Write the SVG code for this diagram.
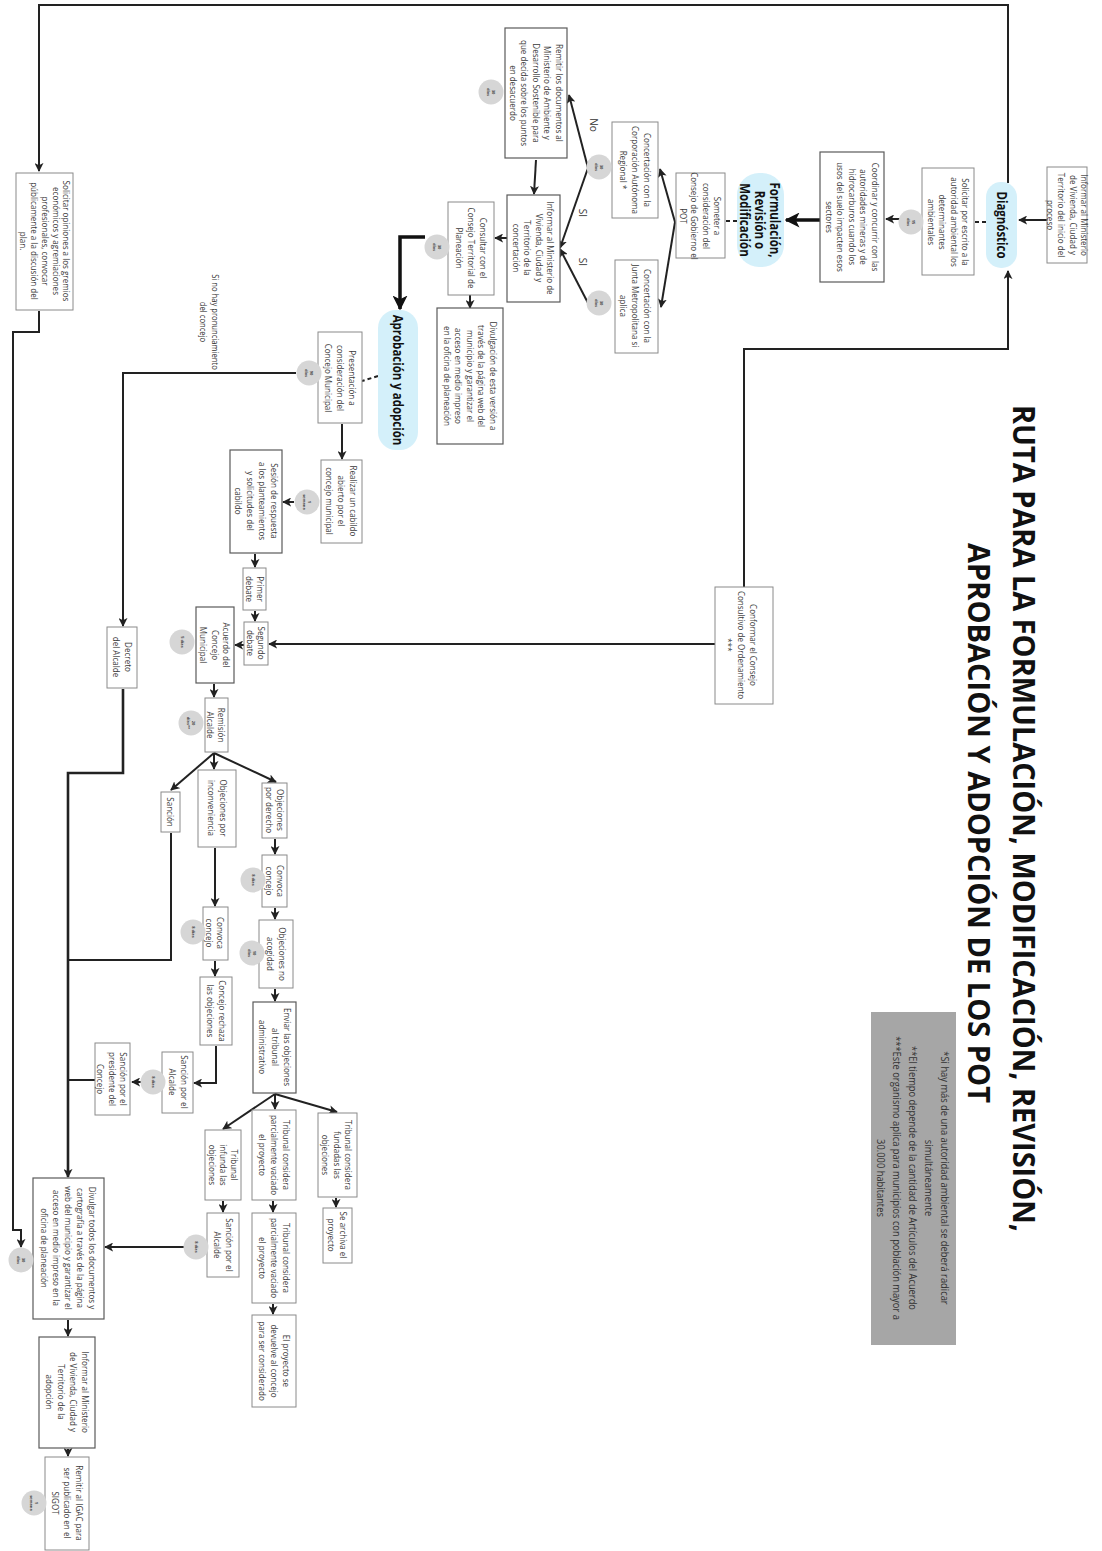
<svg xmlns="http://www.w3.org/2000/svg" width="1102" height="1551" viewBox="0 0 1102 1551">
<style>
.bg{fill:#ffffff}
.box{fill:#ffffff;stroke:#8a8a8a;stroke-width:1}
.box2{fill:#ffffff;stroke:#5a5a5a;stroke-width:1.2}
.pill{fill:#d4f0fa;stroke:none}
.circ{fill:#d6d6d6;stroke:none}
.t{font-family:"Open Sans","Liberation Sans",sans-serif;font-size:9.5px;fill:#3a3a3a;text-anchor:middle;dominant-baseline:central}
.tb{font-family:"Open Sans","Liberation Sans",sans-serif;font-size:13.5px;font-weight:bold;fill:#111;text-anchor:middle;dominant-baseline:central}
.tc{font-family:"Open Sans","Liberation Sans",sans-serif;font-size:4px;font-weight:bold;fill:#444;text-anchor:middle;dominant-baseline:central}
.tl{font-family:"Open Sans","Liberation Sans",sans-serif;font-size:10px;fill:#333;text-anchor:middle;dominant-baseline:central}
.title{font-family:"Open Sans","Liberation Sans",sans-serif;font-size:31px;font-weight:bold;fill:#111}
.note{font-family:"Open Sans","Liberation Sans",sans-serif;font-size:11px;fill:#333;text-anchor:middle;dominant-baseline:central}
.c{fill:none;stroke:#222;stroke-width:2}
.ck{fill:none;stroke:#111;stroke-width:3.5}
.d{fill:none;stroke:#222;stroke-width:2;stroke-dasharray:4 3}
</style>
<defs>
<marker id="a" viewBox="0 0 10 10" refX="9" refY="5" markerWidth="9" markerHeight="9" markerUnits="userSpaceOnUse" orient="auto"><path d="M0,0 L10,5 L0,10 L2.5,5 z" fill="#222"/></marker>
<marker id="ak" viewBox="0 0 10 10" refX="9" refY="5" markerWidth="15" markerHeight="15" markerUnits="userSpaceOnUse" orient="auto"><path d="M0,0 L10,5 L0,10 L2.5,5 z" fill="#111"/></marker>
</defs>
<rect class="bg" x="0" y="0" width="1102" height="1551"/>

<g id="connectors">
<path class="c" d="M1008,183 V5 H39 V171" marker-end="url(#a)"/>
<path class="c" d="M744,587 V349 H1008 V271" marker-end="url(#a)"/>
<path class="c" d="M715,644 H269" marker-end="url(#a)"/>
<path class="c" d="M1047,220 H1019" marker-end="url(#a)"/>
<path class="d" d="M986,222 H974"/>
<path class="c" d="M900,219 H886" marker-end="url(#a)"/>
<path class="ck" d="M820,220 H786" marker-end="url(#ak)"/>
<path class="d" d="M737,221 H725"/>
<path class="c" d="M675,222 L660,169" marker-end="url(#a)"/>
<path class="c" d="M675,222 L661,307" marker-end="url(#a)"/>
<path class="c" d="M588,168 L569,95" marker-end="url(#a)"/>
<path class="c" d="M588,168 L560,248" marker-end="url(#a)"/>
<path class="c" d="M588,303 L560,249" marker-end="url(#a)"/>
<path class="c" d="M536,160 L534,194" marker-end="url(#a)"/>
<path class="c" d="M507,238 H495" marker-end="url(#a)"/>
<path class="ck" d="M425,237 H400 V309" marker-end="url(#ak)"/>
<path class="c" d="M470,295 V308" marker-end="url(#a)"/>
<path class="d" d="M378,376 L362,381"/>
<path class="c" d="M296,373 H123 V626" marker-end="url(#a)"/>
<path class="c" d="M342,424 V459" marker-end="url(#a)"/>
<path class="c" d="M294,502 H283" marker-end="url(#a)"/>
<path class="c" d="M255,554 V567" marker-end="url(#a)"/>
<path class="c" d="M255,611 V621" marker-end="url(#a)"/>
<path class="c" d="M244,645 H235" marker-end="url(#a)"/>
<path class="c" d="M214,684 V697" marker-end="url(#a)"/>
<path class="c" d="M214,753 L171,790" marker-end="url(#a)"/>
<path class="c" d="M214,753 V769" marker-end="url(#a)"/>
<path class="c" d="M214,753 L276,782" marker-end="url(#a)"/>
<path class="c" d="M275,839 V854" marker-end="url(#a)"/>
<path class="c" d="M275,908 V919" marker-end="url(#a)"/>
<path class="c" d="M275,989 V1001" marker-end="url(#a)"/>
<path class="c" d="M275,1094 L337,1112" marker-end="url(#a)"/>
<path class="c" d="M275,1094 V1109" marker-end="url(#a)"/>
<path class="c" d="M275,1094 L223,1129" marker-end="url(#a)"/>
<path class="c" d="M215,848 V906" marker-end="url(#a)"/>
<path class="c" d="M215,961 V976" marker-end="url(#a)"/>
<path class="c" d="M216,1046 V1083 H194" marker-end="url(#a)"/>
<path class="c" d="M143,1082 H132" marker-end="url(#a)"/>
<path class="c" d="M336,1198 V1207" marker-end="url(#a)"/>
<path class="c" d="M273,1201 V1212" marker-end="url(#a)"/>
<path class="c" d="M273,1304 V1314" marker-end="url(#a)"/>
<path class="c" d="M223,1201 V1212" marker-end="url(#a)"/>
<path class="c" d="M186,1247 H105" marker-end="url(#a)"/>
<path class="c" style="stroke-width:2.6" d="M123,689 V773 H68 V1177" marker-end="url(#a)"/>
<path class="c" d="M171,833 V960 H68"/>
<path class="c" d="M95,1080 H68"/>
<path class="c" d="M39,311 V332 H13 V1230 H21 V1247" marker-end="url(#a)"/>
<path class="c" d="M68,1320 V1336" marker-end="url(#a)"/>
<path class="c" d="M68,1449 V1456" marker-end="url(#a)"/>
<text class="tl" transform="translate(594 125) rotate(90)">No</text>
<text class="tl" transform="translate(583 213) rotate(90)">SI</text>
<text class="tl" transform="translate(583 262) rotate(90)">SI</text>
<text class="tl" style="font-size:9px" transform="translate(210 322) rotate(90) scale(.85 1)"><tspan x="0" y="-6">Si no hay pronunciamiento</tspan><tspan x="0" dy="12">del concejo</tspan></text>
</g>

<g id="n-informar-inicio"><rect class="box" x="1047" y="167" width="40" height="96"/>
<text class="t" transform="translate(1067 215) rotate(90) scale(.85 1)"><tspan x="0" y="-17.25">Informar al Ministerio</tspan><tspan x="0" dy="11.5">de Vivienda, Ciudad y</tspan><tspan x="0" dy="11.5">Territorio del inicio del</tspan><tspan x="0" dy="11.5">proceso</tspan></text></g>

<g id="n-diagnostico"><rect class="pill" x="986" y="182" width="31" height="86" rx="15"/>
<text class="tb" transform="translate(1002 225) rotate(90) scale(.85 1)">Diagnóstico</text></g>

<g id="n-solicitar-autoridad"><rect class="box" x="922" y="168" width="52" height="107"/>
<text class="t" transform="translate(948 222) rotate(90) scale(.85 1)"><tspan x="0" y="-17.25">Solicitar por escrito a la</tspan><tspan x="0" dy="11.5">autoridad ambiental los</tspan><tspan x="0" dy="11.5">determinantes</tspan><tspan x="0" dy="11.5">ambientales</tspan></text></g>

<g id="n-coordinar"><rect class="box2" x="820" y="152" width="64" height="130"/>
<text class="t" transform="translate(852 217) rotate(90) scale(.85 1)"><tspan x="0" y="-23">Coordinar y concurrir con las</tspan><tspan x="0" dy="11.5">autoridades mineras y de</tspan><tspan x="0" dy="11.5">hidrocarburos cuando los</tspan><tspan x="0" dy="11.5">usos del suelo impacten esos</tspan><tspan x="0" dy="11.5">sectores</tspan></text></g>

<g id="n-formulacion"><rect class="pill" x="737" y="173" width="47" height="94" rx="22"/>
<text class="tb" transform="translate(760 220) rotate(90) scale(.85 1)"><tspan x="0" y="-15">Formulación,</tspan><tspan x="0" dy="15">Revisión o</tspan><tspan x="0" dy="15">Modificación</tspan></text></g>

<g id="n-someter"><rect class="box" x="676" y="173" width="49" height="85"/>
<text class="t" transform="translate(700 216) rotate(90) scale(.85 1)"><tspan x="0" y="-17.25">Someter a</tspan><tspan x="0" dy="11.5">consideración del</tspan><tspan x="0" dy="11.5">Consejo de Gobierno el</tspan><tspan x="0" dy="11.5">POT</tspan></text></g>

<g id="n-car"><rect class="box" x="612" y="122" width="46" height="96"/>
<text class="t" transform="translate(635 170) rotate(90) scale(.85 1)"><tspan x="0" y="-12">Concertación con la</tspan><tspan x="0" dy="12">Corporación Autónoma</tspan><tspan x="0" dy="12">Regional *</tspan></text></g>

<g id="n-junta"><rect class="box" x="615" y="260" width="43" height="93"/>
<text class="t" transform="translate(635 306) rotate(90) scale(.85 1)"><tspan x="0" y="-12">Concertación con la</tspan><tspan x="0" dy="12">Junta Metropolitana si</tspan><tspan x="0" dy="12">aplica</tspan></text></g>

<g id="n-remitir"><rect class="box2" x="505" y="28" width="62" height="130"/>
<text class="t" transform="translate(536 93) rotate(90) scale(.85 1)"><tspan x="0" y="-23">Remitir los documentos al</tspan><tspan x="0" dy="11.5">Ministerio de Ambiente y</tspan><tspan x="0" dy="11.5">Desarrollo Sostenible para</tspan><tspan x="0" dy="11.5">que decida sobre los puntos</tspan><tspan x="0" dy="11.5">en desacuerdo</tspan></text></g>

<g id="n-informar-concertacion"><rect class="box2" x="507" y="195" width="53" height="107"/>
<text class="t" transform="translate(533 248) rotate(90) scale(.85 1)"><tspan x="0" y="-17.25">Informar al Ministerio de</tspan><tspan x="0" dy="11.5">Vivienda, Ciudad y</tspan><tspan x="0" dy="11.5">Territorio de la</tspan><tspan x="0" dy="11.5">concertación</tspan></text></g>

<g id="n-consultar"><rect class="box" x="448" y="202" width="46" height="93"/>
<text class="t" transform="translate(471 248) rotate(90) scale(.85 1)"><tspan x="0" y="-12">Consultar con el</tspan><tspan x="0" dy="12">Consejo Territorial de</tspan><tspan x="0" dy="12">Planeación</tspan></text></g>

<g id="n-divulgacion"><rect class="box2" x="437" y="308" width="66" height="136"/>
<text class="t" transform="translate(470 376) rotate(90) scale(.85 1)"><tspan x="0" y="-23">Divulgación de esta versión a</tspan><tspan x="0" dy="11.5">través de la página web del</tspan><tspan x="0" dy="11.5">municipio  y garantizar  el</tspan><tspan x="0" dy="11.5">acceso en medio impreso</tspan><tspan x="0" dy="11.5">en la oficina de planeación</tspan></text></g>

<g id="n-aprobacion"><rect class="pill" x="378" y="310" width="40" height="140" rx="18"/>
<text class="tb" transform="translate(398 380) rotate(90) scale(.85 1)">Aprobación y adopción</text></g>

<g id="n-presentacion"><rect class="box" x="318" y="332" width="44" height="91"/>
<text class="t" transform="translate(340 378) rotate(90) scale(.85 1)"><tspan x="0" y="-12">Presentación a</tspan><tspan x="0" dy="12">consideración del</tspan><tspan x="0" dy="12">Concejo Municipal</tspan></text></g>

<g id="n-realizar"><rect class="box" x="321" y="460" width="41" height="83"/>
<text class="t" transform="translate(341 501) rotate(90) scale(.85 1)"><tspan x="0" y="-12">Realizar  un cabildo</tspan><tspan x="0" dy="12">abierto por el</tspan><tspan x="0" dy="12">concejo municipal</tspan></text></g>

<g id="n-sesion"><rect class="box2" x="230" y="450" width="52" height="103"/>
<text class="t" transform="translate(256 501) rotate(90) scale(.85 1)"><tspan x="0" y="-18">Sesión de respuesta</tspan><tspan x="0" dy="12">a los planteamientos</tspan><tspan x="0" dy="12">y solicitudes del</tspan><tspan x="0" dy="12">cabildo</tspan></text></g>

<g id="n-primer"><rect class="box" x="243" y="568" width="23" height="42"/>
<text class="t" transform="translate(255 589) rotate(90) scale(.85 1)"><tspan x="0" y="-5.5">Primer</tspan><tspan x="0" dy="11">debate</tspan></text></g>

<g id="n-segundo"><rect class="box" x="244" y="622" width="24" height="43"/>
<text class="t" transform="translate(256 643) rotate(90) scale(.85 1)"><tspan x="0" y="-5.5">Segundo</tspan><tspan x="0" dy="11">debate</tspan></text></g>

<g id="n-acuerdo"><rect class="box2" x="196" y="607" width="38" height="76"/>
<text class="t" transform="translate(215 645) rotate(90) scale(.85 1)"><tspan x="0" y="-11.5">Acuerdo del</tspan><tspan x="0" dy="11.5">Concejo</tspan><tspan x="0" dy="11.5">Municipal</tspan></text></g>

<g id="n-remision"><rect class="box" x="205" y="698" width="23" height="54"/>
<text class="t" transform="translate(216 725) rotate(90) scale(.85 1)"><tspan x="0" y="-5.5">Remisión</tspan><tspan x="0" dy="11">Alcalde</tspan></text></g>

<g id="n-decreto"><rect class="box" x="107" y="627" width="30" height="61"/>
<text class="t" transform="translate(122 657) rotate(90) scale(.85 1)"><tspan x="0" y="-6">Decreto</tspan><tspan x="0" dy="12">del Alcalde</tspan></text></g>

<g id="n-sancion"><rect class="box" x="161" y="792" width="19" height="40"/>
<text class="t" transform="translate(170 812) rotate(90) scale(.85 1)">Sanción</text></g>

<g id="n-obj-inconveniencia"><rect class="box" x="198" y="770" width="38" height="77"/>
<text class="t" transform="translate(217 808) rotate(90) scale(.85 1)"><tspan x="0" y="-6">Objeciones por</tspan><tspan x="0" dy="12">inconveniencia</tspan></text></g>

<g id="n-obj-derecho"><rect class="box" x="262" y="783" width="25" height="55"/>
<text class="t" transform="translate(275 810) rotate(90) scale(.85 1)"><tspan x="0" y="-5.5">Objeciones</tspan><tspan x="0" dy="11">por derecho</tspan></text></g>

<g id="n-convoca1"><rect class="box" x="262" y="855" width="25" height="52"/>
<text class="t" transform="translate(275 881) rotate(90) scale(.85 1)"><tspan x="0" y="-5.5">Convoca</tspan><tspan x="0" dy="11">concejo</tspan></text></g>

<g id="n-obj-no"><rect class="box" x="259" y="920" width="34" height="68"/>
<text class="t" transform="translate(276 954) rotate(90) scale(.85 1)"><tspan x="0" y="-6">Objeciones no</tspan><tspan x="0" dy="12">acogidad</tspan></text></g>

<g id="n-enviar"><rect class="box2" x="253" y="1002" width="43" height="91"/>
<text class="t" transform="translate(275 1047) rotate(90) scale(.85 1)"><tspan x="0" y="-12.5">Enviar las objeciones</tspan><tspan x="0" dy="12.5">al tribunal</tspan><tspan x="0" dy="12.5">administrativo</tspan></text></g>

<g id="n-convoca2"><rect class="box" x="203" y="907" width="25" height="53"/>
<text class="t" transform="translate(215 933) rotate(90) scale(.85 1)"><tspan x="0" y="-5.5">Convoca</tspan><tspan x="0" dy="11">concejo</tspan></text></g>

<g id="n-rechaza"><rect class="box" x="200" y="977" width="32" height="68"/>
<text class="t" transform="translate(216 1011) rotate(90) scale(.85 1)"><tspan x="0" y="-6">Concejo rechaza</tspan><tspan x="0" dy="12">las objeciones</tspan></text></g>

<g id="n-sancion-alcalde1"><rect class="box" x="162" y="1052" width="31" height="61"/>
<text class="t" transform="translate(178 1082) rotate(90) scale(.85 1)"><tspan x="0" y="-6">Sanción por el</tspan><tspan x="0" dy="12">Alcalde</tspan></text></g>

<g id="n-sancion-presidente"><rect class="box" x="95" y="1043" width="35" height="72"/>
<text class="t" transform="translate(112 1079) rotate(90) scale(.85 1)"><tspan x="0" y="-11.5">Sanción por el</tspan><tspan x="0" dy="11.5">presidente del</tspan><tspan x="0" dy="11.5">Concejo</tspan></text></g>

<g id="n-trib-fundadas"><rect class="box" x="318" y="1113" width="39" height="84"/>
<text class="t" transform="translate(337 1155) rotate(90) scale(.85 1)"><tspan x="0" y="-11.5">Tribunal considera</tspan><tspan x="0" dy="11.5">fundadas las</tspan><tspan x="0" dy="11.5">objeciones</tspan></text></g>

<g id="n-trib-parcial1"><rect class="box" x="252" y="1110" width="44" height="90"/>
<text class="t" transform="translate(274 1155) rotate(90) scale(.85 1)"><tspan x="0" y="-12">Tribunal considera</tspan><tspan x="0" dy="12">parcialmente vaciado</tspan><tspan x="0" dy="12">el proyecto</tspan></text></g>

<g id="n-trib-infunda"><rect class="box" x="205" y="1130" width="36" height="70"/>
<text class="t" transform="translate(223 1165) rotate(90) scale(.85 1)"><tspan x="0" y="-11">Tribunal</tspan><tspan x="0" dy="11">infunda las</tspan><tspan x="0" dy="11">objeciones</tspan></text></g>

<g id="n-archiva"><rect class="box" x="323" y="1208" width="29" height="55"/>
<text class="t" transform="translate(337 1235) rotate(90) scale(.85 1)"><tspan x="0" y="-6">Se archiva el</tspan><tspan x="0" dy="12">proyecto</tspan></text></g>

<g id="n-trib-parcial2"><rect class="box" x="252" y="1213" width="44" height="90"/>
<text class="t" transform="translate(274 1258) rotate(90) scale(.85 1)"><tspan x="0" y="-12">Tribunal considera</tspan><tspan x="0" dy="12">parcialmente vaciado</tspan><tspan x="0" dy="12">el proyecto</tspan></text></g>

<g id="n-devuelve"><rect class="box" x="252" y="1315" width="44" height="92"/>
<text class="t" transform="translate(274 1361) rotate(90) scale(.85 1)"><tspan x="0" y="-12">El proyecto se</tspan><tspan x="0" dy="12">devuelve al concejo</tspan><tspan x="0" dy="12">para ser considerado</tspan></text></g>

<g id="n-sancion-alcalde2"><rect class="box" x="207" y="1213" width="32" height="64"/>
<text class="t" transform="translate(223 1245) rotate(90) scale(.85 1)"><tspan x="0" y="-6">Sanción por el</tspan><tspan x="0" dy="12">Alcalde</tspan></text></g>

<g id="n-divulgar"><rect class="box2" x="33" y="1178" width="71" height="141"/>
<text class="t" transform="translate(68 1248) rotate(90) scale(.85 1)"><tspan x="0" y="-24">Divulgar todos los documentos y</tspan><tspan x="0" dy="12">cartografía  a  través de la página</tspan><tspan x="0" dy="12">web del municipio  y garantizar  el</tspan><tspan x="0" dy="12">acceso en medio impreso en la</tspan><tspan x="0" dy="12">oficina de planeación</tspan></text></g>

<g id="n-informar-adopcion"><rect class="box2" x="39" y="1337" width="56" height="111"/>
<text class="t" transform="translate(67 1392) rotate(90) scale(.85 1)"><tspan x="0" y="-18">Informar al Ministerio</tspan><tspan x="0" dy="12">de Vivienda, Ciudad y</tspan><tspan x="0" dy="12">Territorio de la</tspan><tspan x="0" dy="12">adopción</tspan></text></g>

<g id="n-igac"><rect class="box" x="45" y="1457" width="44" height="93"/>
<text class="t" transform="translate(67 1503) rotate(90) scale(.85 1)"><tspan x="0" y="-12">Remitir al IGAC para</tspan><tspan x="0" dy="12">ser publicado en el</tspan><tspan x="0" dy="12">SIGOT</tspan></text></g>

<g id="n-conformar"><rect class="box" x="715" y="587" width="58" height="117"/>
<text class="t" transform="translate(741 645) rotate(90) scale(.85 1)"><tspan x="0" y="-12.5">Conformar el Consejo</tspan><tspan x="0" dy="12.5">Consultivo de Ordenamiento</tspan><tspan x="0" dy="12.5">***</tspan></text></g>

<g id="n-solicitar-opiniones"><rect class="box" x="16" y="173" width="57" height="137"/>
<text class="t" transform="translate(45 241) rotate(90) scale(.85 1)"><tspan x="0" y="-21.5">Solicitar opiniones a los gremios</tspan><tspan x="0" dy="10.75">económicos y agremiaciones</tspan><tspan x="0" dy="10.75">profesionales, convocar</tspan><tspan x="0" dy="10.75">públicamente a la  discusión del</tspan><tspan x="0" dy="10.75">plan.</tspan></text></g>

<g id="timers">
<g id="t-solicitar"><circle class="circ" cx="911" cy="222" r="12.5"/><text class="tc" transform="translate(911 222) rotate(90)"><tspan x="0" y="-2.5">15</tspan><tspan x="0" dy="5">días</tspan></text></g>
<g id="t-car"><circle class="circ" cx="599" cy="167" r="12.5"/><text class="tc" transform="translate(599 167) rotate(90)"><tspan x="0" y="-2.5">30</tspan><tspan x="0" dy="5">días</tspan></text></g>
<g id="t-junta"><circle class="circ" cx="599" cy="303" r="12.5"/><text class="tc" transform="translate(599 303) rotate(90)"><tspan x="0" y="-2.5">30</tspan><tspan x="0" dy="5">días</tspan></text></g>
<g id="t-remitir"><circle class="circ" cx="491" cy="92" r="12.5"/><text class="tc" transform="translate(491 92) rotate(90)"><tspan x="0" y="-2.5">30</tspan><tspan x="0" dy="5">días</tspan></text></g>
<g id="t-consultar"><circle class="circ" cx="437" cy="247" r="12.5"/><text class="tc" transform="translate(437 247) rotate(90)"><tspan x="0" y="-2.5">30</tspan><tspan x="0" dy="5">días</tspan></text></g>
<g id="t-presentacion"><circle class="circ" cx="309" cy="373" r="12.5"/><text class="tc" transform="translate(309 373) rotate(90)"><tspan x="0" y="-2.5">90</tspan><tspan x="0" dy="5">días</tspan></text></g>
<g id="t-realizar"><circle class="circ" cx="307" cy="502" r="12.5"/><text class="tc" transform="translate(307 502) rotate(90)"><tspan x="0" y="-2.5">1</tspan><tspan x="0" dy="5">semana</tspan></text></g>
<g id="t-acuerdo"><circle class="circ" cx="182" cy="642" r="12.5"/><text class="tc" transform="translate(182 642) rotate(90)">5 días</text></g>
<g id="t-remision"><circle class="circ" cx="191" cy="723" r="12.5"/><text class="tc" transform="translate(191 723) rotate(90)"><tspan x="0" y="-2.5">20</tspan><tspan x="0" dy="5">días**</tspan></text></g>
<g id="t-convoca1"><circle class="circ" cx="253" cy="880" r="12.5"/><text class="tc" transform="translate(253 880) rotate(90)">8 días</text></g>
<g id="t-objno"><circle class="circ" cx="252" cy="953" r="12.5"/><text class="tc" transform="translate(252 953) rotate(90)"><tspan x="0" y="-2.5">10</tspan><tspan x="0" dy="5">días</tspan></text></g>
<g id="t-convoca2"><circle class="circ" cx="193" cy="932" r="12.5"/><text class="tc" transform="translate(193 932) rotate(90)">8 días</text></g>
<g id="t-sancion1"><circle class="circ" cx="153" cy="1082" r="12.5"/><text class="tc" transform="translate(153 1082) rotate(90)">8 días</text></g>
<g id="t-sancion2"><circle class="circ" cx="196" cy="1247" r="12.5"/><text class="tc" transform="translate(196 1247) rotate(90)">8 días</text></g>
<g id="t-divulgar"><circle class="circ" cx="21" cy="1260" r="12.5"/><text class="tc" transform="translate(21 1260) rotate(90)"><tspan x="0" y="-2.5">30</tspan><tspan x="0" dy="5">días</tspan></text></g>
<g id="t-igac"><circle class="circ" cx="34" cy="1503" r="12.5"/><text class="tc" transform="translate(34 1503) rotate(90)"><tspan x="0" y="-2.5">1</tspan><tspan x="0" dy="5">semana</tspan></text></g>
</g>

<g id="title">
<text class="title" transform="translate(1013 405) rotate(90)" textLength="827" lengthAdjust="spacingAndGlyphs">RUTA PARA LA FORMULACIÓN, MODIFICACIÓN, REVISIÓN,</text>
<text class="title" transform="translate(968 543) rotate(90)" textLength="560" lengthAdjust="spacingAndGlyphs">APROBACIÓN Y ADOPCIÓN DE LOS POT</text>
</g>

<g id="notes"><rect x="871" y="1012" width="85" height="333" fill="#a6a6a6"/>
<text class="note" transform="translate(913 1178) rotate(90) scale(.85 1)"><tspan x="0" y="-32">*Si hay más de una autoridad ambiental se deberá radicar</tspan><tspan x="0" dy="16">simultáneamente</tspan><tspan x="0" dy="16">**El tiempo depende de la cantidad de Artículos del Acuerdo</tspan><tspan x="0" dy="16">***Este organismo aplica para municipios con población mayor a</tspan><tspan x="0" dy="16">30.000 habitantes</tspan></text></g>
</svg>
